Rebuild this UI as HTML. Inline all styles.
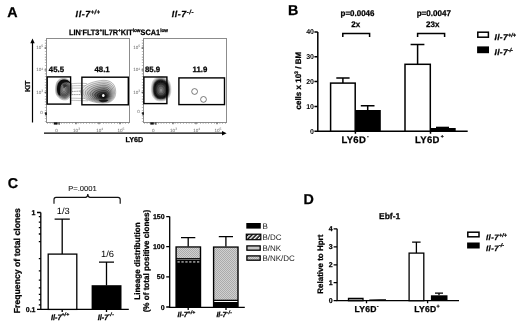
<!DOCTYPE html>
<html><head><meta charset="utf-8"><style>
html,body{margin:0;padding:0;background:#fff;width:520px;height:325px;overflow:hidden}
svg{display:block;filter:grayscale(1);text-rendering:geometricPrecision}
text{font-family:"Liberation Sans",sans-serif}
.b{font-weight:bold;stroke:#000;stroke-width:0.25}
.bi{font-weight:bold;font-style:italic;stroke:#000;stroke-width:0.25}
</style></head><body>
<svg width="520" height="325" viewBox="0 0 520 325">
<rect width="520" height="325" fill="#fff"/>
<!-- ============ PANEL LETTERS ============ -->
<g class="b" font-size="14.3" fill="#000">
<text x="7.3" y="17.2">A</text>
<text x="287.9" y="15.1">B</text>
<text x="7.8" y="187.6">C</text>
<text x="303.5" y="204.4">D</text>
</g>

<!-- ============ PANEL A ============ -->
<g id="panelA">
<g class="bi" font-size="8.8" fill="#000">
<text x="75.6" y="17"><tspan letter-spacing="0.6">Il-7</tspan><tspan font-size="6" dy="-3.2" letter-spacing="0.3">+/+</tspan></text>
<text x="171.7" y="17.3"><tspan letter-spacing="0.6">Il-7</tspan><tspan font-size="6" dy="-3.2" letter-spacing="0.5">-/-</tspan></text>
</g>
<text class="b" font-size="7.8" x="69" y="34.8" textLength="99" lengthAdjust="spacingAndGlyphs">LIN<tspan font-size="5" dy="-2.6">-</tspan><tspan dy="2.6">FLT3</tspan><tspan font-size="5" dy="-2.6">+</tspan><tspan dy="2.6">IL7R</tspan><tspan font-size="5" dy="-2.6">+</tspan><tspan dy="2.6">KIT</tspan><tspan font-size="5" dy="-2.6">low</tspan><tspan dy="2.6">SCA1</tspan><tspan font-size="5" dy="-2.6">low</tspan></text>
<!-- frames -->
<g fill="none" stroke="#8c8c8c" stroke-width="1">
<rect x="46.5" y="38.5" width="83" height="84"/>
<rect x="143.5" y="38.5" width="83" height="84"/>
</g>
<!-- minor ticks -->
<g stroke="#777" stroke-width="1.1" fill="none">
<path d="M45.4 40 V122.5" stroke-dasharray="0.6 2.2"/>
<path d="M142.4 40 V122.5" stroke-dasharray="0.6 2.2"/>
<path d="M47 123.3 H129.7" stroke-dasharray="0.6 2.2"/>
<path d="M144 123.3 H226.7" stroke-dasharray="0.6 2.2"/>
</g>
<g stroke="#666" stroke-width="1.3" fill="none">
<path d="M44.6 48 H46.3 M44.6 69.8 H46.3 M44.6 92.4 H46.3 M44.6 113.2 H46.3"/>
<path d="M141.6 48 H143.3 M141.6 69.8 H143.3 M141.6 92.4 H143.3 M141.6 113.2 H143.3"/>
<path d="M57 122.6 V124.3 M76 122.6 V124.3 M99 122.6 V124.3 M120 122.6 V124.3"/>
<path d="M154 122.6 V124.3 M173 122.6 V124.3 M196 122.6 V124.3 M217 122.6 V124.3"/>
</g>
<!-- events at zero -->
<g fill="#111">
<rect x="53.8" y="122.4" width="3.6" height="2.2"/><rect x="58.6" y="122.4" width="1" height="2.4"/>
<rect x="45.2" y="112.4" width="1.6" height="2.6"/>
<rect x="150.3" y="122.4" width="3.4" height="2.2"/><rect x="155.4" y="122.4" width="1" height="2.4"/>
<rect x="142.3" y="112.2" width="1.6" height="2.6"/>
</g>
<!-- tick labels -->
<g font-size="4.6" fill="#666">
<text x="36.2" y="49.2">10<tspan font-size="3.4" dy="-1.8">5</tspan></text>
<text x="36.2" y="71.3">10<tspan font-size="3.4" dy="-1.8">4</tspan></text>
<text x="36.2" y="94">10<tspan font-size="3.4" dy="-1.8">3</tspan></text>
<text x="40.2" y="114.2">0</text>
<text x="133.2" y="49.2">10<tspan font-size="3.4" dy="-1.8">5</tspan></text>
<text x="133.2" y="71.3">10<tspan font-size="3.4" dy="-1.8">4</tspan></text>
<text x="133.2" y="94">10<tspan font-size="3.4" dy="-1.8">3</tspan></text>
<text x="137.2" y="112.8">0</text>
<text x="55.3" y="131.6">0</text>
<text x="73" y="131.6">10<tspan font-size="3.4" dy="-1.8">3</tspan></text>
<text x="96.2" y="131.6">10<tspan font-size="3.4" dy="-1.8">4</tspan></text>
<text x="117.4" y="131.6">10<tspan font-size="3.4" dy="-1.8">5</tspan></text>
<text x="152" y="131.6">0</text>
<text x="170" y="131.6">10<tspan font-size="3.4" dy="-1.8">3</tspan></text>
<text x="193.2" y="131.6">10<tspan font-size="3.4" dy="-1.8">4</tspan></text>
<text x="214.4" y="131.6">10<tspan font-size="3.4" dy="-1.8">5</tspan></text>
</g>
<!-- contour blobs -->
<defs>
<filter id="bl" x="-20%" y="-20%" width="140%" height="140%"><feGaussianBlur stdDeviation="0.35"/></filter>
</defs>
<g filter="url(#bl)">
<!-- bridge contours -->
<g fill="none" stroke="#8c8c8c" stroke-width="0.55">
<path d="M70 83.8 C75 83.4 80 83 87 83.6"/>
<path d="M70 86 C75 85.7 80 85.5 88 85.8"/>
<path d="M70 88.2 C75 88 80 88 88 88.2"/>
<path d="M70 98.2 C75 98.2 80 98.4 88 98.6"/>
<path d="M70 100.3 C75 100.4 80 100.6 88 100.8"/>
</g>
<g fill="none" stroke="#666" stroke-width="0.7" stroke-dasharray="1.3 0.5">
<path d="M70 94.6 H99"/>
<path d="M70 91.6 C78 91.2 86 90.8 96 90.4"/>
</g>
<!--b1-->
<path d="M55.60 89.00 C55.65 87.17 55.85 84.62 56.50 83.00 C57.15 81.38 58.25 80.07 59.50 79.30 C60.75 78.53 62.50 78.32 64.00 78.40 C65.50 78.48 67.28 78.87 68.50 79.80 C69.72 80.73 70.72 82.30 71.30 84.00 C71.88 85.70 72.05 88.08 72.00 90.00 C71.95 91.92 71.75 93.95 71.00 95.50 C70.25 97.05 68.83 98.58 67.50 99.30 C66.17 100.02 64.45 100.10 63.00 99.80 C61.55 99.50 59.93 98.47 58.80 97.50 C57.67 96.53 56.73 95.42 56.20 94.00 C55.67 92.58 55.55 90.83 55.60 89.00Z" fill="#cacaca" stroke="#888" stroke-width="0.45"/>
<path d="M56.58 89.06 C56.63 87.45 56.80 85.20 57.38 83.78 C57.95 82.36 58.92 81.20 60.02 80.52 C61.12 79.85 62.66 79.66 63.98 79.73 C65.30 79.81 66.87 80.14 67.94 80.96 C69.01 81.79 69.89 83.16 70.40 84.66 C70.91 86.16 71.06 88.25 71.02 89.94 C70.97 91.63 70.80 93.42 70.14 94.78 C69.48 96.14 68.23 97.49 67.06 98.12 C65.88 98.75 64.37 98.83 63.10 98.56 C61.82 98.30 60.40 97.39 59.40 96.54 C58.40 95.69 57.58 94.71 57.11 93.46 C56.64 92.21 56.54 90.67 56.58 89.06Z" fill="#9c9c9c" stroke="#555" stroke-width="0.45"/>
<path d="M57.57 89.12 C57.61 87.73 57.76 85.79 58.25 84.56 C58.75 83.33 59.58 82.33 60.53 81.75 C61.48 81.17 62.81 81.00 63.95 81.06 C65.09 81.13 66.45 81.42 67.37 82.13 C68.30 82.84 69.06 84.03 69.50 85.32 C69.94 86.61 70.07 88.42 70.03 89.88 C69.99 91.34 69.84 92.88 69.27 94.06 C68.70 95.24 67.63 96.40 66.61 96.95 C65.60 97.49 64.29 97.56 63.19 97.33 C62.09 97.10 60.86 96.31 60.00 95.58 C59.14 94.85 58.43 94.00 58.02 92.92 C57.62 91.84 57.53 90.51 57.57 89.12Z" fill="#787878" stroke="#333" stroke-width="0.45"/>
<path d="M58.63 89.19 C58.67 88.03 58.79 86.42 59.20 85.41 C59.61 84.39 60.30 83.56 61.09 83.07 C61.88 82.59 62.98 82.45 63.93 82.51 C64.87 82.56 65.99 82.80 66.76 83.39 C67.53 83.98 68.16 84.96 68.52 86.03 C68.89 87.11 69.00 88.61 68.97 89.81 C68.93 91.02 68.81 92.30 68.34 93.28 C67.86 94.26 66.97 95.22 66.13 95.67 C65.29 96.13 64.21 96.18 63.30 95.99 C62.38 95.80 61.36 95.15 60.65 94.54 C59.94 93.93 59.35 93.23 59.01 92.33 C58.68 91.44 58.60 90.34 58.63 89.19Z" fill="#666" stroke="#222" stroke-width="0.45"/>
<path d="M59.70 89.25 C59.73 88.33 59.83 87.06 60.15 86.25 C60.47 85.44 61.02 84.78 61.65 84.40 C62.27 84.02 63.15 83.91 63.90 83.95 C64.65 83.99 65.54 84.18 66.15 84.65 C66.76 85.12 67.26 85.90 67.55 86.75 C67.84 87.60 67.93 88.79 67.90 89.75 C67.88 90.71 67.78 91.72 67.40 92.50 C67.03 93.28 66.32 94.04 65.65 94.40 C64.98 94.76 64.12 94.80 63.40 94.65 C62.67 94.50 61.87 93.98 61.30 93.50 C60.73 93.02 60.27 92.46 60.00 91.75 C59.73 91.04 59.68 90.17 59.70 89.25Z" fill="#707070" stroke="#222" stroke-width="0.4"/>
<path d="M60.85 89.32 C60.87 88.66 60.94 87.74 61.17 87.16 C61.41 86.58 61.80 86.10 62.25 85.83 C62.70 85.55 63.33 85.47 63.87 85.50 C64.41 85.53 65.05 85.67 65.49 86.01 C65.93 86.34 66.29 86.91 66.50 87.52 C66.71 88.13 66.77 88.99 66.75 89.68 C66.73 90.37 66.66 91.10 66.39 91.66 C66.12 92.22 65.61 92.77 65.13 93.03 C64.65 93.29 64.03 93.32 63.51 93.21 C62.99 93.10 62.41 92.73 62.00 92.38 C61.59 92.03 61.26 91.63 61.06 91.12 C60.87 90.61 60.83 89.98 60.85 89.32Z" fill="#7e7e7e" stroke="#333" stroke-width="0.4"/>
<path d="M62.16 89.40 C62.17 89.03 62.21 88.52 62.34 88.20 C62.47 87.88 62.69 87.61 62.94 87.46 C63.19 87.31 63.54 87.26 63.84 87.28 C64.14 87.30 64.50 87.37 64.74 87.56 C64.98 87.75 65.18 88.06 65.30 88.40 C65.42 88.74 65.45 89.22 65.44 89.60 C65.43 89.98 65.39 90.39 65.24 90.70 C65.09 91.01 64.81 91.32 64.54 91.46 C64.27 91.60 63.93 91.62 63.64 91.56 C63.35 91.50 63.03 91.29 62.80 91.10 C62.57 90.91 62.39 90.68 62.28 90.40 C62.17 90.12 62.15 89.77 62.16 89.40Z" fill="#8c8c8c" stroke="#444" stroke-width="0.4"/>
<path d="M57.2 91 C56.6 85 58.6 80.6 63 79.6 C66.5 79 69.5 80.6 70.6 83.5 C68 82 64.5 81.8 62.3 83.4 C60.3 85 59.8 89.5 60.4 96 C58.6 95.3 57.5 93.5 57.2 91 Z" fill="#0a0a0a"/>
<path d="M63 84.5 C64.5 83.8 66.5 84.2 67.5 86 C66 86.5 64.5 87 63.8 88.5 Z" fill="#333"/>
<!--b2-->
<path d="M80.50 91.50 C80.50 89.62 82.42 87.88 84.00 86.50 C85.58 85.12 87.83 84.08 90.00 83.20 C92.17 82.32 94.67 81.68 97.00 81.20 C99.33 80.72 101.83 80.25 104.00 80.30 C106.17 80.35 108.33 80.72 110.00 81.50 C111.67 82.28 113.05 83.42 114.00 85.00 C114.95 86.58 115.60 88.92 115.70 91.00 C115.80 93.08 115.47 95.72 114.60 97.50 C113.73 99.28 112.27 100.77 110.50 101.70 C108.73 102.63 106.25 102.95 104.00 103.10 C101.75 103.25 99.33 102.98 97.00 102.60 C94.67 102.22 92.17 101.60 90.00 100.80 C87.83 100.00 85.58 99.35 84.00 97.80 C82.42 96.25 80.50 93.38 80.50 91.50Z" fill="#ececec" stroke="#7a7a7a" stroke-width="0.5"/>
<path d="M82.85 92.05 C82.85 90.35 84.58 88.80 86.00 87.55 C87.42 86.30 89.45 85.38 91.40 84.58 C93.35 83.78 95.60 83.22 97.70 82.78 C99.80 82.34 102.05 81.92 104.00 81.97 C105.95 82.02 107.90 82.34 109.40 83.05 C110.90 83.75 112.14 84.78 113.00 86.20 C113.86 87.62 114.44 89.72 114.53 91.60 C114.62 93.47 114.32 95.84 113.54 97.45 C112.76 99.06 111.44 100.39 109.85 101.23 C108.26 102.07 106.03 102.35 104.00 102.49 C101.97 102.62 99.80 102.38 97.70 102.04 C95.60 101.69 93.35 101.14 91.40 100.42 C89.45 99.70 87.42 99.11 86.00 97.72 C84.58 96.33 82.85 93.75 82.85 92.05Z" fill="#dedede" stroke="#6a6a6a" stroke-width="0.5"/>
<path d="M85.20 92.60 C85.20 91.09 86.73 89.71 88.00 88.60 C89.27 87.49 91.07 86.67 92.80 85.96 C94.53 85.25 96.53 84.75 98.40 84.36 C100.27 83.97 102.27 83.60 104.00 83.64 C105.73 83.68 107.47 83.97 108.80 84.60 C110.13 85.23 111.24 86.13 112.00 87.40 C112.76 88.67 113.28 90.53 113.36 92.20 C113.44 93.87 113.17 95.97 112.48 97.40 C111.79 98.83 110.61 100.01 109.20 100.76 C107.79 101.51 105.80 101.76 104.00 101.88 C102.20 102.00 100.27 101.79 98.40 101.48 C96.53 101.17 94.53 100.68 92.80 100.04 C91.07 99.40 89.27 98.88 88.00 97.64 C86.73 96.40 85.20 94.11 85.20 92.60Z" fill="#cdcdcd" stroke="#5a5a5a" stroke-width="0.5"/>
<path d="M87.55 93.15 C87.55 91.83 88.89 90.62 90.00 89.65 C91.11 88.68 92.68 87.96 94.20 87.34 C95.72 86.72 97.47 86.28 99.10 85.94 C100.73 85.60 102.48 85.28 104.00 85.31 C105.52 85.34 107.03 85.60 108.20 86.15 C109.37 86.70 110.34 87.49 111.00 88.60 C111.66 89.71 112.12 91.34 112.19 92.80 C112.26 94.26 112.03 96.10 111.42 97.35 C110.81 98.60 109.79 99.64 108.55 100.29 C107.31 100.94 105.58 101.16 104.00 101.27 C102.42 101.38 100.73 101.19 99.10 100.92 C97.47 100.65 95.72 100.22 94.20 99.66 C92.68 99.10 91.11 98.64 90.00 97.56 C88.89 96.48 87.55 94.47 87.55 93.15Z" fill="#b6b6b6" stroke="#4a4a4a" stroke-width="0.5"/>
<path d="M89.90 93.70 C89.90 92.57 91.05 91.53 92.00 90.70 C92.95 89.87 94.30 89.25 95.60 88.72 C96.90 88.19 98.40 87.81 99.80 87.52 C101.20 87.23 102.70 86.95 104.00 86.98 C105.30 87.01 106.60 87.23 107.60 87.70 C108.60 88.17 109.43 88.85 110.00 89.80 C110.57 90.75 110.96 92.15 111.02 93.40 C111.08 94.65 110.88 96.23 110.36 97.30 C109.84 98.37 108.96 99.26 107.90 99.82 C106.84 100.38 105.35 100.57 104.00 100.66 C102.65 100.75 101.20 100.59 99.80 100.36 C98.40 100.13 96.90 99.76 95.60 99.28 C94.30 98.80 92.95 98.41 92.00 97.48 C91.05 96.55 89.90 94.83 89.90 93.70Z" fill="#9a9a9a" stroke="#3a3a3a" stroke-width="0.5"/>
<path d="M92.25 94.25 C92.25 93.31 93.21 92.44 94.00 91.75 C94.79 91.06 95.92 90.54 97.00 90.10 C98.08 89.66 99.33 89.34 100.50 89.10 C101.67 88.86 102.92 88.62 104.00 88.65 C105.08 88.68 106.17 88.86 107.00 89.25 C107.83 89.64 108.53 90.21 109.00 91.00 C109.47 91.79 109.80 92.96 109.85 94.00 C109.90 95.04 109.73 96.36 109.30 97.25 C108.87 98.14 108.13 98.88 107.25 99.35 C106.37 99.82 105.12 99.97 104.00 100.05 C102.88 100.12 101.67 99.99 100.50 99.80 C99.33 99.61 98.08 99.30 97.00 98.90 C95.92 98.50 94.79 98.18 94.00 97.40 C93.21 96.62 92.25 95.19 92.25 94.25Z" fill="#7a7a7a" stroke="#2a2a2a" stroke-width="0.5"/>
<path d="M94.60 94.80 C94.60 94.05 95.37 93.35 96.00 92.80 C96.63 92.25 97.53 91.83 98.40 91.48 C99.27 91.13 100.27 90.87 101.20 90.68 C102.13 90.49 103.13 90.30 104.00 90.32 C104.87 90.34 105.73 90.49 106.40 90.80 C107.07 91.11 107.62 91.57 108.00 92.20 C108.38 92.83 108.64 93.77 108.68 94.60 C108.72 95.43 108.59 96.49 108.24 97.20 C107.89 97.91 107.31 98.51 106.60 98.88 C105.89 99.25 104.90 99.38 104.00 99.44 C103.10 99.50 102.13 99.39 101.20 99.24 C100.27 99.09 99.27 98.84 98.40 98.52 C97.53 98.20 96.63 97.94 96.00 97.32 C95.37 96.70 94.60 95.55 94.60 94.80Z" fill="#555" stroke="#1a1a1a" stroke-width="0.5"/>
<path d="M96.95 95.35 C96.95 94.78 97.53 94.26 98.00 93.85 C98.47 93.44 99.15 93.12 99.80 92.86 C100.45 92.59 101.20 92.41 101.90 92.26 C102.60 92.12 103.35 91.97 104.00 91.99 C104.65 92.00 105.30 92.11 105.80 92.35 C106.30 92.58 106.72 92.93 107.00 93.40 C107.28 93.88 107.48 94.58 107.51 95.20 C107.54 95.83 107.44 96.62 107.18 97.15 C106.92 97.69 106.48 98.13 105.95 98.41 C105.42 98.69 104.67 98.78 104.00 98.83 C103.33 98.88 102.60 98.79 101.90 98.68 C101.20 98.56 100.45 98.38 99.80 98.14 C99.15 97.90 98.47 97.70 98.00 97.24 C97.53 96.77 96.95 95.91 96.95 95.35Z" fill="#333" stroke="#111" stroke-width="0.45"/>
<path d="M99.30 95.90 C99.30 95.52 99.68 95.18 100.00 94.90 C100.32 94.62 100.77 94.42 101.20 94.24 C101.63 94.06 102.13 93.94 102.60 93.84 C103.07 93.74 103.57 93.65 104.00 93.66 C104.43 93.67 104.87 93.74 105.20 93.90 C105.53 94.06 105.81 94.28 106.00 94.60 C106.19 94.92 106.32 95.38 106.34 95.80 C106.36 96.22 106.29 96.74 106.12 97.10 C105.95 97.46 105.65 97.75 105.30 97.94 C104.95 98.13 104.45 98.19 104.00 98.22 C103.55 98.25 103.07 98.20 102.60 98.12 C102.13 98.04 101.63 97.92 101.20 97.76 C100.77 97.60 100.32 97.47 100.00 97.16 C99.68 96.85 99.30 96.28 99.30 95.90Z" fill="#1a1a1a" stroke="#000" stroke-width="0.4"/>
<path d="M101.65 96.45 C101.65 96.26 101.84 96.09 102.00 95.95 C102.16 95.81 102.38 95.71 102.60 95.62 C102.82 95.53 103.07 95.47 103.30 95.42 C103.53 95.37 103.78 95.33 104.00 95.33 C104.22 95.33 104.43 95.37 104.60 95.45 C104.77 95.53 104.91 95.64 105.00 95.80 C105.09 95.96 105.16 96.19 105.17 96.40 C105.18 96.61 105.15 96.87 105.06 97.05 C104.97 97.23 104.83 97.38 104.65 97.47 C104.47 97.56 104.22 97.59 104.00 97.61 C103.78 97.62 103.53 97.60 103.30 97.56 C103.07 97.52 102.82 97.46 102.60 97.38 C102.38 97.30 102.16 97.23 102.00 97.08 C101.84 96.92 101.65 96.64 101.65 96.45Z" fill="#111" stroke="#000" stroke-width="0.3"/>
<!--b3-->
<path d="M151.40 89.00 C151.38 86.67 151.82 83.83 152.50 82.00 C153.18 80.17 154.17 78.90 155.50 78.00 C156.83 77.10 158.78 76.60 160.50 76.60 C162.22 76.60 164.30 77.10 165.80 78.00 C167.30 78.90 168.65 80.17 169.50 82.00 C170.35 83.83 170.85 86.67 170.90 89.00 C170.95 91.33 170.62 94.17 169.80 96.00 C168.98 97.83 167.47 99.17 166.00 100.00 C164.53 100.83 162.67 101.00 161.00 101.00 C159.33 101.00 157.40 100.83 156.00 100.00 C154.60 99.17 153.37 97.83 152.60 96.00 C151.83 94.17 151.42 91.33 151.40 89.00Z" fill="#e2e2e2" stroke="#b0b0b0" stroke-width="0.45"/>
<path d="M152.17 89.12 C152.15 86.97 152.55 84.37 153.18 82.68 C153.81 80.99 154.71 79.83 155.94 79.00 C157.17 78.17 158.96 77.71 160.54 77.71 C162.12 77.71 164.04 78.17 165.42 79.00 C166.80 79.83 168.04 80.99 168.82 82.68 C169.60 84.37 170.06 86.97 170.11 89.12 C170.15 91.27 169.85 93.87 169.10 95.56 C168.34 97.25 166.95 98.47 165.60 99.24 C164.25 100.01 162.53 100.16 161.00 100.16 C159.47 100.16 157.69 100.01 156.40 99.24 C155.11 98.47 153.98 97.25 153.27 95.56 C152.57 93.87 152.18 91.27 152.17 89.12Z" fill="#c6c6c6" stroke="#8a8a8a" stroke-width="0.45"/>
<path d="M152.84 89.22 C152.83 87.24 153.19 84.83 153.78 83.28 C154.36 81.72 155.19 80.64 156.32 79.88 C157.46 79.11 159.12 78.69 160.57 78.69 C162.03 78.69 163.81 79.11 165.08 79.88 C166.36 80.64 167.50 81.72 168.22 83.28 C168.95 84.83 169.37 87.24 169.41 89.22 C169.46 91.21 169.17 93.62 168.48 95.17 C167.79 96.73 166.50 97.87 165.25 98.58 C164.00 99.28 162.42 99.42 161.00 99.42 C159.58 99.42 157.94 99.28 156.75 98.58 C155.56 97.87 154.51 96.73 153.86 95.17 C153.21 93.62 152.85 91.21 152.84 89.22Z" fill="#8c8c8c" stroke="#555" stroke-width="0.45"/>
<path d="M153.51 89.33 C153.50 87.51 153.84 85.30 154.37 83.87 C154.90 82.44 155.67 81.45 156.71 80.75 C157.75 80.05 159.27 79.66 160.61 79.66 C161.95 79.66 163.57 80.05 164.74 80.75 C165.91 81.45 166.97 82.44 167.63 83.87 C168.29 85.30 168.68 87.51 168.72 89.33 C168.76 91.15 168.50 93.36 167.86 94.79 C167.23 96.22 166.04 97.26 164.90 97.91 C163.76 98.56 162.30 98.69 161.00 98.69 C159.70 98.69 158.19 98.56 157.10 97.91 C156.01 97.26 155.05 96.22 154.45 94.79 C153.85 93.36 153.53 91.15 153.51 89.33Z" fill="#333" stroke="#111" stroke-width="0.45"/>
<path d="M154.28 89.45 C154.27 87.82 154.57 85.83 155.05 84.55 C155.53 83.27 156.22 82.38 157.15 81.75 C158.08 81.12 159.45 80.77 160.65 80.77 C161.85 80.77 163.31 81.12 164.36 81.75 C165.41 82.38 166.35 83.27 166.95 84.55 C167.54 85.83 167.90 87.82 167.93 89.45 C167.97 91.08 167.73 93.07 167.16 94.35 C166.59 95.63 165.53 96.57 164.50 97.15 C163.47 97.73 162.17 97.85 161.00 97.85 C159.83 97.85 158.48 97.73 157.50 97.15 C156.52 96.57 155.66 95.63 155.12 94.35 C154.58 93.07 154.29 91.08 154.28 89.45Z" fill="#151515" stroke="#000" stroke-width="0.4"/>
<path d="M155.43 89.63 C155.42 88.28 155.67 86.63 156.07 85.57 C156.47 84.51 157.04 83.77 157.81 83.25 C158.58 82.73 159.71 82.44 160.71 82.44 C161.71 82.44 162.91 82.73 163.78 83.25 C164.65 83.77 165.44 84.51 165.93 85.57 C166.42 86.63 166.71 88.28 166.74 89.63 C166.77 90.98 166.58 92.63 166.10 93.69 C165.63 94.75 164.75 95.53 163.90 96.01 C163.05 96.49 161.97 96.59 161.00 96.59 C160.03 96.59 158.91 96.49 158.10 96.01 C157.29 95.53 156.57 94.75 156.13 93.69 C155.68 92.63 155.44 90.98 155.43 89.63Z" fill="#2e2e2e" stroke="#111" stroke-width="0.4"/>
<path d="M156.68 89.83 C156.67 88.78 156.87 87.50 157.18 86.67 C157.48 85.85 157.93 85.28 158.53 84.88 C159.12 84.47 160.00 84.25 160.78 84.25 C161.55 84.25 162.49 84.47 163.16 84.88 C163.83 85.28 164.44 85.85 164.82 86.67 C165.21 87.50 165.43 88.78 165.46 89.83 C165.48 90.88 165.33 92.15 164.96 92.97 C164.59 93.80 163.91 94.40 163.25 94.78 C162.59 95.15 161.75 95.22 161.00 95.22 C160.25 95.22 159.38 95.15 158.75 94.78 C158.12 94.40 157.56 93.80 157.22 92.97 C156.88 92.15 156.69 90.88 156.68 89.83Z" fill="#505050" stroke="#222" stroke-width="0.4"/>
<path d="M158.12 90.05 C158.12 89.35 158.25 88.50 158.45 87.95 C158.65 87.40 158.95 87.02 159.35 86.75 C159.75 86.48 160.33 86.33 160.85 86.33 C161.37 86.33 161.99 86.48 162.44 86.75 C162.89 87.02 163.30 87.40 163.55 87.95 C163.81 88.50 163.95 89.35 163.97 90.05 C163.99 90.75 163.89 91.60 163.64 92.15 C163.40 92.70 162.94 93.10 162.50 93.35 C162.06 93.60 161.50 93.65 161.00 93.65 C160.50 93.65 159.92 93.60 159.50 93.35 C159.08 93.10 158.71 92.70 158.48 92.15 C158.25 91.60 158.12 90.75 158.12 90.05Z" fill="#6e6e6e" stroke="#333" stroke-width="0.4"/>
<path d="M159.56 90.28 C159.56 89.93 159.62 89.50 159.72 89.22 C159.83 88.95 159.98 88.76 160.18 88.62 C160.38 88.49 160.67 88.41 160.93 88.41 C161.18 88.41 161.50 88.49 161.72 88.62 C161.94 88.76 162.15 88.95 162.28 89.22 C162.40 89.50 162.48 89.93 162.49 90.28 C162.49 90.62 162.44 91.05 162.32 91.33 C162.20 91.60 161.97 91.80 161.75 91.92 C161.53 92.05 161.25 92.08 161.00 92.08 C160.75 92.08 160.46 92.05 160.25 91.92 C160.04 91.80 159.86 91.60 159.74 91.33 C159.62 91.05 159.56 90.62 159.56 90.28Z" fill="#8e8e8e" stroke="#555" stroke-width="0.4"/>
<ellipse cx="103.3" cy="95.5" rx="1.3" ry="1.5" fill="#fff"/>
<path d="M98.5 100.3 C101 99.6 105 99.5 108.5 100 C107.5 101.7 105 102.3 102.5 102.2 C100.5 102.1 99.2 101.4 98.5 100.3 Z" fill="#000" opacity="0.8"/>
</g>
<!-- gates -->
<g fill="none" stroke="#000" stroke-width="1.4">
<rect x="47.2" y="76.9" width="23.4" height="27.2"/>
<rect x="81.9" y="77.2" width="46.4" height="27.6"/>
<rect x="143.9" y="77" width="23" height="26.6"/>
<rect x="178.9" y="77.9" width="45.6" height="26.7"/>
</g>
<g fill="none" stroke="#444" stroke-width="0.7">
<circle cx="194.6" cy="91.5" r="2.9"/>
<circle cx="203.5" cy="99.4" r="2.9"/>
</g>
<g class="b" font-size="7.8" fill="#000">
<text x="48.8" y="72">45.5</text>
<text x="94.5" y="72">48.1</text>
<text x="145" y="72">85.9</text>
<text x="192.6" y="72">11.9</text>
</g>
<!-- arrows -->
<g stroke="#000" stroke-width="1.2" fill="none">
<path d="M32.5 122.5 V42"/>
<path d="M44 133.2 H223"/>
</g>
<path d="M32.5 38.6 L30.3 43.2 L34.7 43.2 Z" fill="#000"/>
<path d="M226.6 133.2 L222 131 L222 135.4 Z" fill="#000"/>
<text class="b" font-size="7.2" transform="translate(30 86.3) rotate(-90)" text-anchor="middle">KIT</text>
<text class="b" font-size="7.2" x="125.6" y="142.3">LY6D</text>
</g>

<!-- ============ PANEL B ============ -->
<g id="panelB">
<g stroke="#000" stroke-width="1.5" fill="none">
<path d="M317.8 31.9 V131.2 H467.7"/>
<path d="M314.4 31.9 H317.8 M314.4 56.8 H317.8 M314.4 81.6 H317.8 M314.4 106.4 H317.8 M314.4 131.2 H317.8"/>
<path d="M355.4 131.2 V133.8 M430.5 131.2 V133.8"/>
<!-- bars -->
<rect x="330.6" y="83.1" width="24.6" height="48.1" fill="#fff"/>
<rect x="405" y="64.3" width="25.3" height="66.9" fill="#fff"/>
<!-- error bars -->
<path d="M342.9 83.1 V78.1 M336.3 78.1 H349.6"/>
<path d="M367.7 110 V105.8 M360.8 105.8 H374.5"/>
<path d="M417.6 64.3 V44.6 M410.6 44.6 H424.4"/>

<!-- brackets -->
<path d="M342.8 37 V33.6 H369.6 V37"/>
<path d="M417.6 37 V33.6 H444.6 V37"/>
</g>
<rect x="355.4" y="110" width="25.4" height="21.2" fill="#000"/>
<rect x="430.4" y="128" width="25.3" height="3.2" fill="#000"/><rect x="436" y="126.7" width="13" height="1.6" fill="#000"/>
<g font-size="7" font-weight="bold" fill="#000" text-anchor="end">
<text x="314" y="34.4">40</text>
<text x="314" y="59.3">30</text>
<text x="314" y="84.1">20</text>
<text x="314" y="108.9">10</text>
<text x="314" y="133.7">0</text>
</g>
<g class="b" font-size="8" fill="#000">
<text x="340.6" y="15.9" font-size="8.3" textLength="33.8" lengthAdjust="spacingAndGlyphs">p=0.0046</text>
<text x="416.7" y="15.9" font-size="8.3" textLength="34.2" lengthAdjust="spacingAndGlyphs">p=0.0047</text>
<text x="351.2" y="27.3">2x</text>
<text x="426" y="27.3">23x</text>
<text x="341.4" y="142.9" font-size="9.5" letter-spacing="0.35">LY6D<tspan font-size="5" dx="0.8" dy="-5" letter-spacing="0">-</tspan></text>
<text x="415" y="142.9" font-size="9.5" letter-spacing="0.35">LY6D<tspan font-size="5" dx="1" dy="-5" letter-spacing="0">+</tspan></text>
</g>
<text class="b" font-size="8" transform="translate(301.1 80.7) rotate(-90)" text-anchor="middle">cells x 10<tspan font-size="5.2" dy="-3.6">3</tspan><tspan dy="3.6"> / BM</tspan></text>
<!-- legend -->
<rect x="477.8" y="32.2" width="10.6" height="5" fill="#fff" stroke="#000" stroke-width="1.5"/>
<rect x="477.1" y="46.4" width="11.9" height="6.8" fill="#000"/>
<g class="bi" font-size="8.3">
<text x="494.5" y="40.4"><tspan letter-spacing="0.35">Il-7</tspan><tspan font-size="5.6" dy="-3.5" letter-spacing="0">+/+</tspan></text>
<text x="494.5" y="55.4"><tspan letter-spacing="0.35">Il-7</tspan><tspan font-size="5.6" dy="-3.5" letter-spacing="-0.1">-/-</tspan></text>
</g>
</g>

<!-- ============ PANEL C ============ -->
<g id="panelC">
<defs>
<pattern id="stip" width="2" height="2" patternUnits="userSpaceOnUse">
<rect width="2" height="2" fill="#d0d0d0"/>
<rect width="1" height="1" fill="#ababab"/>
<rect x="1" y="1" width="1" height="1" fill="#ababab"/>
</pattern>
<pattern id="hatch" width="3" height="3" patternUnits="userSpaceOnUse" patternTransform="rotate(45)">
<rect width="3" height="3" fill="#000"/>
<rect width="1.5" height="3" fill="#fff"/>
</pattern>
</defs>
<!-- left subplot -->
<g stroke="#000" stroke-width="1.3" fill="none">
<path d="M40.8 212.5 V309.4 H128.8"/>
<path d="M37 212.5 H40.8 M37 309.4 H40.8"/>
<path d="M38.8 241.7 H40.8 M38.8 258.7 H40.8 M38.8 270.8 H40.8 M38.8 280.2 H40.8 M38.8 287.8 H40.8 M38.8 294.3 H40.8 M38.8 299.9 H40.8 M38.8 304.9 H40.8"/>
<path d="M38.8 222.2 H40.8 M38.8 216.6 H40.8 M38.8 227.7 H40.8 M38.8 234 H40.8"/>
<path d="M62.2 309.4 V312 M106.5 309.4 V312"/>
<rect x="48.2" y="254.1" width="28.6" height="55.3" fill="#fff"/>
<path d="M62.2 254.1 V219.2 M54.6 219.2 H69.8"/>
<path d="M106.5 285.5 V262.2 M99 262.2 H114"/>
</g>
<rect x="91.6" y="285.2" width="29.9" height="24.2" fill="#000"/>
<path d="M54 203.8 V199.5 Q54 197.4 56 197.4 H85.5 Q87.6 197.4 87.8 194 Q88 197.4 90 197.4 H118 Q120.2 197.4 120.2 199.5 V203.8" fill="none" stroke="#111" stroke-width="1.15"/>
<g font-size="7.2" fill="#222" stroke="#222" stroke-width="0.12">
<text x="68.2" y="190.7" textLength="28.6" lengthAdjust="spacingAndGlyphs">P=.0001</text>
</g>
<g font-size="9" fill="#000">
<text x="56.8" y="214.3" textLength="13" lengthAdjust="spacingAndGlyphs">1/3</text>
<text x="101" y="257.4" textLength="13" lengthAdjust="spacingAndGlyphs">1/6</text>
</g>
<g class="b" font-size="7" fill="#000" text-anchor="end">
<text x="35.3" y="215">1</text>
<text x="35.5" y="311.8">0.1</text>
</g>
<text class="b" font-size="8.7" transform="translate(20 260.7) rotate(-90)" text-anchor="middle">Frequency of total clones</text>
<g class="bi" font-size="7.8" fill="#000">
<text x="50.9" y="319.8"><tspan textLength="10.6" lengthAdjust="spacingAndGlyphs">Il-7</tspan><tspan font-size="5" dy="-3.6" letter-spacing="0.2">+/+</tspan></text>
<text x="97.7" y="319.8"><tspan textLength="10.6" lengthAdjust="spacingAndGlyphs">Il-7</tspan><tspan font-size="5" dy="-3.6" letter-spacing="0.4">-/-</tspan></text>
</g>
<!-- right subplot -->
<g stroke="#000" stroke-width="1.3" fill="none">
<path d="M169.7 216.5 V307.4 H244.8"/>
<path d="M166.2 216.6 H169.7 M166.2 246.7 H169.7 M166.2 276.9 H169.7 M166.2 307 H169.7"/>
<path d="M188.2 307.4 V310 M226 307.4 V310"/>
<path d="M188.2 246.5 V237.6 M181 237.6 H195.3"/>
<path d="M225.9 246.5 V236.6 M218.8 236.6 H233"/>
</g>
<!-- bar1 stack -->
<rect x="175.4" y="246.3" width="25.8" height="61.1" fill="#000"/>
<rect x="176.8" y="247.6" width="23" height="10.5" fill="url(#stip)"/>
<rect x="176.8" y="259.3" width="23" height="0.7" fill="#999"/>
<g fill="#888">
<rect x="177.5" y="261" width="2.3" height="1.8"/><rect x="181.4" y="261" width="2.3" height="1.8"/><rect x="185.3" y="261" width="2.3" height="1.8"/><rect x="189.2" y="261" width="2.3" height="1.8"/><rect x="193.1" y="261" width="2.3" height="1.8"/><rect x="197" y="261" width="2.3" height="1.8"/>
</g>
<!-- bar2 stack -->
<rect x="212.9" y="246.4" width="25.8" height="61" fill="#000"/>
<rect x="214.3" y="247.7" width="23" height="52" fill="url(#stip)"/>
<rect x="214.3" y="301" width="23" height="1" fill="#fff"/>
<g font-size="7" class="b" fill="#000" text-anchor="end">
<text x="164.6" y="219.1">150</text>
<text x="164.6" y="249.2">100</text>
<text x="164.6" y="279.4">50</text>
<text x="164.6" y="309.5">0</text>
</g>
<g class="b" font-size="7.4" fill="#000">
<text transform="translate(140 261.1) rotate(-90)" text-anchor="middle" font-size="8.1">Lineage distribution</text>
<text transform="translate(149.4 261.1) rotate(-90)" text-anchor="middle" font-size="8.1">(% of total positive clones)</text>
</g>
<g class="bi" font-size="7.4" fill="#000">
<text x="177.6" y="317.1"><tspan textLength="10" lengthAdjust="spacingAndGlyphs">Il-7</tspan><tspan font-size="5" dy="-3.4" letter-spacing="0.2">+/+</tspan></text>
<text x="216.4" y="317.1"><tspan textLength="10" lengthAdjust="spacingAndGlyphs">Il-7</tspan><tspan font-size="5" dy="-3.4" letter-spacing="0.4">-/-</tspan></text>
</g>
<!-- legend -->
<rect x="246.3" y="223" width="14.5" height="5.6" fill="#000"/>
<rect x="246.3" y="234.2" width="14.5" height="5.5" fill="url(#hatch)" stroke="#000" stroke-width="1.2"/>
<rect x="246.9" y="245.9" width="13.3" height="4.3" fill="#c6c6c6" stroke="#000" stroke-width="1.3"/>
<rect x="246.9" y="255.9" width="13.3" height="4.3" fill="url(#stip)" stroke="#000" stroke-width="1.3"/>
<g font-size="8" fill="#222">
<text x="262.4" y="228.6">B</text>
<text x="262.4" y="239.7">B/DC</text>
<text x="262.4" y="250.8">B/NK</text>
<text x="262.4" y="260.6">B/NK/DC</text>
</g>
</g>

<!-- ============ PANEL D ============ -->
<g id="panelD">
<g stroke="#000" stroke-width="1.3" fill="none">
<path d="M337.1 228.8 V300.7 H459"/>
<path d="M333.6 228.8 H337.1 M333.6 246.8 H337.1 M333.6 264.8 H337.1 M333.6 282.7 H337.1 M333.6 300.7 H337.1"/>
<path d="M366.5 300.7 V303.2 M427.6 300.7 V303.2"/>
<rect x="348.5" y="298.4" width="14.5" height="2.3" fill="#999"/>
<rect x="409.1" y="253.1" width="14.7" height="47.6" fill="#fff"/>
<path d="M416.4 253.1 V242.2 M412.1 242.2 H420.6"/>
<path d="M439 295.3 V293.1 M435 293.1 H443"/>
</g>
<path d="M369.3 301 L369.3 299.6 Q377 298.9 386 299.3 L386 301 Z" fill="#000"/>
<rect x="430.9" y="295.3" width="16.6" height="5.5" fill="#000"/>
<g font-size="7" class="b" fill="#000" text-anchor="end">
<text x="332.6" y="231.3">4</text>
<text x="332.6" y="249.3">3</text>
<text x="332.6" y="267.3">2</text>
<text x="332.6" y="285.2">1</text>
<text x="332.6" y="303.3">0</text>
</g>
<g class="b" font-size="7.5" fill="#000">
<text x="379" y="218.8" font-size="8.5">Ebf-1</text>
<text x="354.4" y="311.7" font-size="8.6" letter-spacing="0.3">LY6D<tspan font-size="5.5" dy="-4.2" letter-spacing="0">-</tspan></text>
<text x="414.2" y="311.7" font-size="8.6" letter-spacing="0.3">LY6D<tspan font-size="5.5" dy="-4.2" letter-spacing="0">+</tspan></text>
</g>
<text class="b" font-size="8" transform="translate(322.9 264.2) rotate(-90)" text-anchor="middle">Relative to Hprt</text>
<rect x="467.8" y="232.2" width="11.2" height="4.6" fill="#fff" stroke="#000" stroke-width="1.5"/>
<rect x="467.1" y="242.5" width="12.6" height="6" fill="#000"/>
<g class="bi" font-size="7.8">
<text x="486" y="240"><tspan letter-spacing="0.45">Il-7</tspan><tspan font-size="5.4" dy="-3.2" letter-spacing="0">+/+</tspan></text>
<text x="486" y="250.6"><tspan letter-spacing="0.45">Il-7</tspan><tspan font-size="5.4" dy="-3.2" letter-spacing="-0.1">-/-</tspan></text>
</g>
</g>

</svg>
</body></html>
